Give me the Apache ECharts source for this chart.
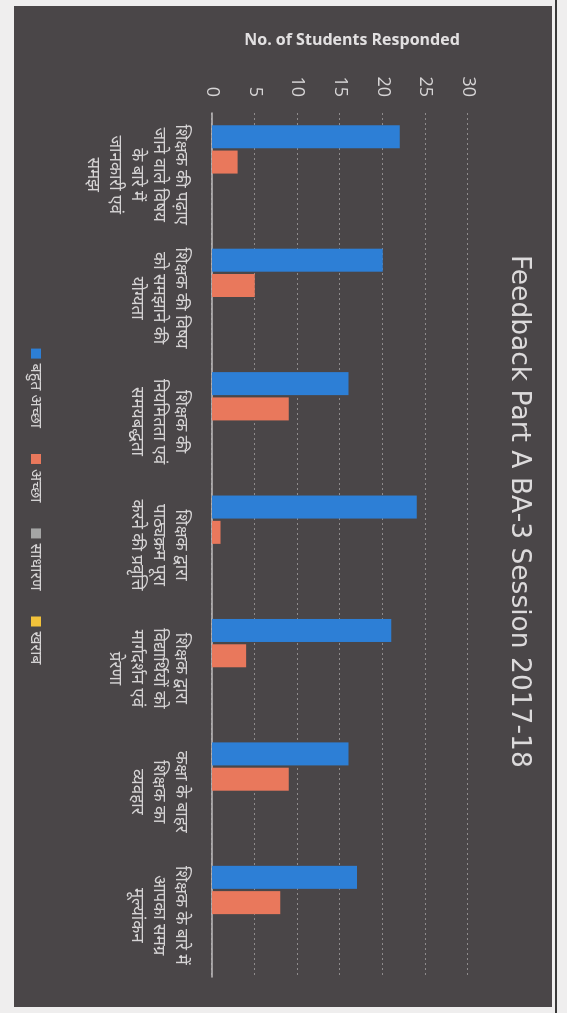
<!DOCTYPE html>
<html>
<head>
<meta charset="utf-8">
<script src="https://cdn.jsdelivr.net/npm/echarts@6/dist/echarts.min.js"></script>
<style>
  html, body { margin: 0; padding: 0; width: 567px; height: 1013px; overflow: hidden; background: #efeeee; }
  #paper { position: absolute; left: 14px; top: 6px; width: 538px; height: 1001px; background: #4a4648; }
  #rule { position: absolute; left: 555px; top: 0; width: 2px; height: 1013px; background: #3a3a3a; }
  #chart { position: absolute; left: 0; top: 0; width: 1013px; height: 567px;
           transform-origin: 0 0; transform: translate(567px, 0) rotate(90deg); }
</style>
</head>
<body>
<div id="paper"></div>
<div id="rule"></div>
<div id="chart"></div>
<script>
const titleText = 'Feedback Part A BA-3 Session 2017-18';
const axisTitle = 'No. of Students Responded';
const categories = [
  'शिक्षक की पढ़ाए\nजाने वाले विषय\nके बारे में\nजानकारी एवं\nसमझ',
  'शिक्षक की विषय\nको समझाने की\nयोग्यता',
  'शिक्षक की\nनियमितता एवं\nसमयबद्धता',
  'शिक्षक द्वारा\nपाठ्यक्रम पूरा\nकरने की प्रवृत्ति',
  'शिक्षक द्वारा\nविद्यार्थियों को\nमार्गदर्शन एवं\nप्रेरणा',
  'कक्षा के बाहर\nशिक्षक का\nव्यवहार',
  'शिक्षक के बारे में\nआपका समग्र\nमूल्यांकन'
];
const seriesNames = ['बहुत अच्छा', 'अच्छा', 'साधारण', 'खराब'];
const veryGood = [22, 20, 16, 24, 21, 16, 17];
const good     = [3, 5, 9, 1, 4, 9, 8];
const average  = [0, 0, 0, 0, 0, 0, 0];
const poor     = [0, 0, 0, 0, 0, 0, 0];
const colors = ['#2d7fd6', '#e9785c', '#a5a5a5', '#f2c23a'];

const chart = echarts.init(document.getElementById('chart'), null, { renderer: 'canvas', width: 1013, height: 567 });
const txt = '#d6d4d5';
const mk = (name, data, i) => ({
  name, type: 'bar', data, barWidth: 23, barGap: '10%',
  itemStyle: { color: colors[i] }
});
chart.setOption({
  animation: false,
  backgroundColor: 'transparent',
  textStyle: { fontFamily: '"Noto Sans", "Open Sans", sans-serif' },
  title: {
    text: titleText, left: 250, top: 30,
    textStyle: { color: '#dcdadb', fontSize: 26.5, fontWeight: 'normal', fontFamily: '"DejaVu Sans", sans-serif' }
  },
  legend: {
    data: seriesNames, left: 'center', top: 518, icon: 'rect',
    itemWidth: 10, itemHeight: 10, itemGap: 26,
    textStyle: { color: txt, fontSize: 16 }
  },
  grid: { left: 113, right: 36, top: 99, bottom: 212 },
  graphic: [{
    type: 'text', rotation: Math.PI / 2, x: 40, y: 215,
    style: {
      text: axisTitle, fill: '#e2e0e1', fontSize: 16, fontWeight: 'bold',
      fontFamily: '"Open Sans", sans-serif', align: 'center', verticalAlign: 'middle'
    }
  }],
  xAxis: {
    type: 'category', data: categories,
    axisLine: { lineStyle: { color: '#bdbbbc', width: 1.5 } },
    axisTick: { show: false },
    axisLabel: { interval: 0, color: txt, fontSize: 17, lineHeight: 22, margin: 20 }
  },
  yAxis: {
    type: 'value', min: 0, max: 30, interval: 5,
    axisLine: { show: false }, axisTick: { show: false },
    axisLabel: { color: txt, fontSize: 18, margin: 16, fontFamily: '"Open Sans", sans-serif' },
    splitLine: { lineStyle: { color: '#8e8b8c', type: [2, 3], width: 1 } }
  },
  series: [
    mk(seriesNames[0], veryGood, 0),
    mk(seriesNames[1], good, 1),
    mk(seriesNames[2], average, 2),
    mk(seriesNames[3], poor, 3)
  ]
});
</script>
</body>
</html>
